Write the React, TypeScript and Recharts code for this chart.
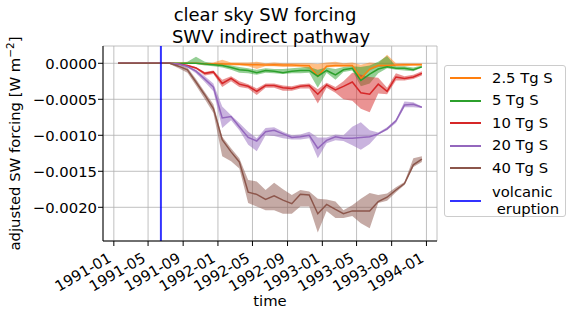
import React from "react";
import {
  ComposedChart,
  Area,
  Line,
  XAxis,
  YAxis,
  CartesianGrid,
  ReferenceLine,
} from "recharts";

// monthly values 1991-01 .. 1993-12, in units of 1e-4 W m-2
const UNIT = 1e-4;
const START_YEAR = 1991;
const N_MONTHS = 36;

const tg2_5 = [0, 0, 0, 0, 0, 0, 0, 0, 0, 0, -0.05, -0.1, -0.1, -0.1, -0.15, -0.2, -0.2, -0.25, -0.2, -0.25, -0.25, -0.3, -0.35, -1.8, -0.4, -0.3, -0.3, -0.3, -2.1, -0.8, -0.3, -0.3, -0.25, -0.2, -0.2, -0.2];
const tg2_5Hi = [0, 0, 0, 0, 0, 0, 0, 0, 0, 0, 0, 0.1, 0.5, 0.1, 0.1, 0.1, 0.2, 0, 0.1, 0, 0, 0, 0, -0.1, 0.1, 0.2, 0, 0.1, -0.2, 0.1, 0, 1.2, 0, 0, 0, 0];
const tg2_5Lo = [0, 0, 0, 0, 0, 0, 0, 0, 0, 0, -0.1, -0.2, -0.2, -0.3, -0.3, -0.4, -0.8, -0.4, -0.4, -0.5, -0.5, -0.5, -0.8, -1.9, -0.6, -0.5, -0.5, -0.5, -2.3, -1.0, -0.5, -0.5, -0.4, -0.4, -0.3, -0.3];

const tg5 = [0, 0, 0, 0, 0, 0, 0, 0, 0, 0, -0.1, -0.2, -0.3, -0.6, -0.9, -1.0, -1.3, -1.0, -1.1, -1.3, -1.1, -1.0, -1.0, -1.8, -1.0, -1.6, -0.9, -0.7, -2.4, -1.5, -0.8, -0.5, -0.7, -0.7, -0.9, -0.5];
const tg5Hi = [0, 0, 0, 0, 0, 0, 0, 0, 0.2, 0.9, 0.2, 0, 0, -0.3, -0.5, -0.7, -0.9, -0.7, -0.8, -0.8, -0.7, -0.6, -0.5, -0.9, -0.6, -0.8, -0.5, -0.4, -0.5, -0.3, 0.2, 1.0, -0.4, -0.4, -0.6, -0.3];
const tg5Lo = [0, 0, 0, 0, 0, 0, 0, 0, -0.05, -0.1, -0.3, -0.4, -0.6, -0.9, -1.3, -1.4, -1.6, -1.3, -1.4, -1.5, -1.4, -1.4, -1.3, -3.4, -1.3, -2.3, -1.2, -1.0, -3.2, -2.8, -1.4, -0.7, -0.9, -1.0, -1.1, -0.6];

const tg10 = [0, 0, 0, 0, 0, 0, 0, -0.1, -0.3, -0.65, -1.4, -1.2, -2.8, -2.1, -2.9, -3.2, -3.9, -3.1, -3.1, -3.4, -3.5, -3.2, -3.1, -4.3, -3.0, -3.7, -3.2, -2.6, -4.1, -4.3, -2.9, -3.9, -1.9, -2.1, -1.9, -1.4];
const tg10Hi = [0, 0, 0, 0, 0, 0, 0, 0, -0.2, -0.5, -1.2, -1.0, -2.3, -1.8, -2.5, -2.9, -3.5, -2.8, -2.8, -3.1, -3.2, -2.9, -2.8, -3.6, -2.7, -3.3, -2.5, -1.3, -1.6, -1.9, -2.0, -3.4, -1.4, -1.8, -1.6, -1.1];
const tg10Lo = [0, 0, 0, 0, 0, 0, 0, -0.2, -0.4, -0.8, -1.7, -1.5, -3.3, -2.5, -3.3, -3.5, -4.4, -3.4, -3.4, -3.8, -3.8, -3.5, -3.5, -5.6, -3.4, -4.1, -5.0, -5.2, -6.3, -6.8, -4.2, -4.3, -2.4, -2.4, -2.2, -1.7];

const tg20 = [0, 0, 0, 0, 0, 0, 0, -0.1, -0.45, -1.1, -2.2, -3.3, -7.6, -7.4, -8.8, -10.3, -10.8, -9.5, -9.3, -9.8, -10.3, -10.2, -10.0, -11.8, -10.7, -10.2, -10.4, -10.4, -10.3, -10.2, -9.8, -9.1, -8.0, -5.8, -5.7, -6.1];
const tg20Hi = [0, 0, 0, 0, 0, 0, 0.05, 0, -0.3, -0.9, -1.8, -2.8, -6.0, -7.2, -8.3, -9.5, -10.4, -9.0, -8.9, -9.5, -10.0, -9.9, -9.5, -10.3, -10.3, -9.9, -10.0, -8.8, -8.2, -9.3, -9.6, -8.9, -7.8, -5.3, -5.4, -6.0];
const tg20Lo = [0, 0, 0, 0, 0, 0, -0.05, -0.2, -0.6, -1.4, -2.6, -3.9, -9.0, -7.9, -9.3, -11.3, -12.2, -10.0, -10.1, -10.4, -10.6, -10.6, -10.4, -13.2, -11.1, -10.7, -10.8, -11.4, -12.0, -11.2, -9.9, -9.3, -8.3, -6.1, -6.1, -6.2];

const tg40 = [0, 0, 0, 0, 0, 0, 0, -0.4, -0.9, -2.6, -4.4, -6.3, -10.6, -12.3, -13.7, -17.9, -18.2, -18.9, -18.4, -19.0, -19.5, -18.2, -18.3, -20.9, -19.6, -20.3, -20.9, -20.5, -20.5, -20.5, -19.2, -18.6, -17.6, -16.7, -14.1, -13.3];
const tg40Hi = [0, 0, 0, 0, 0, 0, 0.1, -0.2, -0.6, -2.2, -4.0, -5.7, -10.2, -11.8, -13.2, -16.2, -16.4, -17.6, -16.6, -17.5, -18.3, -17.6, -17.8, -18.8, -18.9, -19.2, -20.4, -19.7, -18.8, -18.0, -18.3, -18.1, -17.2, -16.5, -13.2, -12.9];
const tg40Lo = [0, 0, 0, 0, 0, 0, -0.1, -0.7, -1.3, -3.1, -5.0, -6.9, -12.9, -13.6, -14.6, -19.4, -19.9, -20.4, -20.4, -20.9, -20.9, -19.9, -19.9, -23.5, -20.5, -21.5, -21.5, -21.2, -22.2, -22.9, -19.4, -19.1, -17.9, -16.9, -14.4, -13.7];

const xTickLabels = ["1991-01", "1991-05", "1991-09", "1992-01", "1992-05", "1992-09", "1993-01", "1993-05", "1993-09", "1994-01"];
const yTicks = [0, -0.0005, -0.001, -0.0015, -0.002];
const ERUPTION = Date.UTC(1991, 5, 15);

const SERIES = [
  { key: "tg2_5", label: "2.5 Tg S", color: "#ff7f0e", mean: tg2_5, lo: tg2_5Lo, hi: tg2_5Hi },
  { key: "tg5", label: "5 Tg S", color: "#2ca02c", mean: tg5, lo: tg5Lo, hi: tg5Hi },
  { key: "tg10", label: "10 Tg S", color: "#d62728", mean: tg10, lo: tg10Lo, hi: tg10Hi },
  { key: "tg20", label: "20 Tg S", color: "#9467bd", mean: tg20, lo: tg20Lo, hi: tg20Hi },
  { key: "tg40", label: "40 Tg S", color: "#8c564b", mean: tg40, lo: tg40Lo, hi: tg40Hi },
];

const FONT = "DejaVu Sans, sans-serif";
const X_DOMAIN = [Date.UTC(1990, 10, 24), Date.UTC(1994, 1, 7)];

const data = Array.from({ length: N_MONTHS }, (_, i) => {
  const row: Record<string, number | number[]> = {
    t: Date.UTC(START_YEAR + Math.floor(i / 12), i % 12, 16),
  };
  for (const s of SERIES) {
    row[s.key] = s.mean[i] * UNIT;
    row[s.key + "Band"] = [s.lo[i] * UNIT, s.hi[i] * UNIT];
  }
  return row;
});

const xTicks = xTickLabels.map((l) => {
  const [y, m] = l.split("-").map(Number);
  return Date.UTC(y, m - 1, 1);
});

function fmtX(v: number) {
  const d = new Date(v);
  return `${d.getUTCFullYear()}-${String(d.getUTCMonth() + 1).padStart(2, "0")}`;
}

function fmtY(v: number) {
  if (Math.abs(v) < 1e-12) return "0.0000";
  return (v < 0 ? "\u2212" : "") + Math.abs(v).toFixed(4);
}

function XTick(props: any) {
  const { x, y, payload } = props;
  const ax = x - 1.5;
  const ay = y + 13;
  return (
    <text
      x={ax}
      y={ay}
      textAnchor="end"
      fontSize={14.8}
      fontFamily={FONT}
      fill="#000"
      transform={`rotate(-30, ${ax}, ${ay})`}
    >
      {fmtX(payload.value)}
    </text>
  );
}

function ChartLegend() {
  const items = [
    ...SERIES.map((s) => ({ label: [s.label], color: s.color })),
    { label: ["volcanic", "\u00a0eruption"], color: "blue" },
  ];
  return (
    <div
      style={{
        position: "absolute",
        left: 444,
        top: 65,
        width: 122,
        height: 152,
        border: "1px solid #cccccc",
        borderRadius: 3,
        background: "rgba(255,255,255,0.8)",
        fontFamily: FONT,
        fontSize: 14.8,
        color: "#000",
        boxSizing: "border-box",
      }}
    >
      {items.map((it, i) => {
        const cy = i < 5 ? 12 + i * 22.6 : 135;
        return (
          <div key={i}>
            <div
              style={{
                position: "absolute",
                left: 5,
                top: cy - 1,
                width: 31,
                height: 2,
                background: it.color,
                opacity: it.color === "blue" ? 0.8 : 1,
              }}
            />
            <div
              style={{
                position: "absolute",
                left: 47,
                top: cy - (it.label.length * 17) / 2 - 1,
                lineHeight: "17px",
                whiteSpace: "pre",
              }}
            >
              {it.label.map((l, j) => (
                <div key={j}>{l}</div>
              ))}
            </div>
          </div>
        );
      })}
    </div>
  );
}

export default function App() {
  return (
    <div style={{ position: "absolute", left: 0, top: 0, width: 573, height: 313, background: "#fff" }}>
      <ComposedChart
        width={573}
        height={313}
        data={data}
        margin={{ top: 46, right: 136, bottom: 0, left: 0 }}
      >
        <CartesianGrid stroke="#b0b0b0" strokeWidth={0.8} />
        <XAxis
          dataKey="t"
          type="number"
          scale="time"
          domain={X_DOMAIN}
          ticks={xTicks}
          interval={0}
          tick={<XTick />}
          height={72}
          tickSize={5}
          axisLine={{ stroke: "#000" }}
          tickLine={{ stroke: "#000" }}
          allowDataOverflow
        />
        <XAxis
          xAxisId="top"
          orientation="top"
          dataKey="t"
          type="number"
          domain={X_DOMAIN}
          height={0}
          tick={false}
          tickLine={false}
          axisLine={{ stroke: "#000" }}
        />
        <YAxis
          type="number"
          domain={[-0.002468, 0.00024]}
          ticks={yTicks}
          interval={0}
          tickFormatter={fmtY}
          width={103}
          tickSize={5}
          tickMargin={1}
          allowDataOverflow
          axisLine={{ stroke: "#000" }}
          tickLine={{ stroke: "#000" }}
          tick={{ fontSize: 14.8, fontFamily: FONT, fill: "#000" }}
        />
        <YAxis
          yAxisId="right"
          orientation="right"
          width={0}
          tick={false}
          tickLine={false}
          axisLine={{ stroke: "#000" }}
        />
        {SERIES.map((s) => (
          <React.Fragment key={s.key}>
            <Area
              type="linear"
              dataKey={s.key + "Band"}
              stroke="none"
              fill={s.color}
              fillOpacity={0.5}
              dot={false}
              activeDot={false}
              isAnimationActive={false}
            />
            <Line
              type="linear"
              dataKey={s.key}
              stroke={s.color}
              strokeWidth={1.5}
              dot={false}
              activeDot={false}
              isAnimationActive={false}
            />
          </React.Fragment>
        ))}
        <ReferenceLine x={ERUPTION} stroke="blue" strokeOpacity={0.8} strokeWidth={2} />
      </ComposedChart>

      <svg
        width={573}
        height={313}
        style={{ position: "absolute", left: 0, top: 0, pointerEvents: "none" }}
        fontFamily={FONT}
      >
        <text x={265} y={21} textAnchor="middle" fontSize={18}>
          clear sky SW forcing
        </text>
        <text x={271} y={43} textAnchor="middle" fontSize={18}>
          SWV indirect pathway
        </text>
        <text x={270} y={306} textAnchor="middle" fontSize={14.8}>
          time
        </text>
        <text x={19.5} y={143.5} textAnchor="middle" fontSize={14.8} transform="rotate(-90, 19.5, 143.5)">
          adjusted SW forcing [W m
          <tspan fontSize={10.5} dy={-6}>
            {"\u22122"}
          </tspan>
          <tspan dy={6}>]</tspan>
        </text>
      </svg>
      <ChartLegend />
    </div>
  );
}
